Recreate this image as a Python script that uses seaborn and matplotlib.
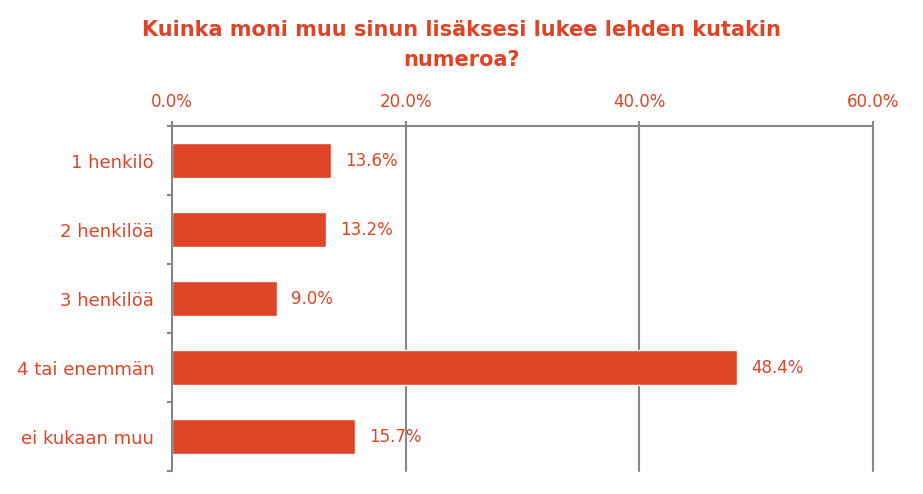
import matplotlib
matplotlib.use("Agg")
import matplotlib.pyplot as plt
import seaborn as sns
import pandas as pd

categories = ["1 henkilö", "2 henkilöä", "3 henkilöä", "4 tai enemmän", "ei kukaan muu"]
values = [13.6, 13.2, 9.0, 48.4, 15.7]
xticks = [0, 20, 40, 60]
xtick_labels = ["0.0%", "20.0%", "40.0%", "60.0%"]
title = "Kuinka moni muu sinun lisäksesi lukee lehden kutakin\nnumeroa?"

RED = "#E04427"
GRAY = "#878787"

sns.set_theme(style="white")
plt.rcParams['font.family'] = ['DejaVu Sans']

df = pd.DataFrame({"cat": categories, "val": values})

fig = plt.figure(figsize=(9.23, 4.94), dpi=100)
ax = fig.add_axes([172/923, 1-471/494, (873-172)/923, (471-126)/494])

sns.barplot(data=df, y="cat", x="val", orient="h", color=RED, width=0.5,
            saturation=1, ax=ax)

ax.set_xlim(0, 60)
ax.set_ylim(4.5, -0.5)
ax.xaxis.tick_top()
ax.set_xticks(xticks)
ax.set_xticklabels(xtick_labels, color=RED, fontsize=12)
ax.set_xlabel("")
ax.set_ylabel("")
ax.set_yticks(range(len(categories)))
ax.set_yticklabels(categories, color=RED, fontsize=13)
ax.tick_params(axis="y", length=0, pad=13)
ax.set_yticks([i - 0.5 for i in range(len(categories) + 1)], minor=True)
ax.tick_params(axis="y", which="minor", length=3.6, width=1.5, color=GRAY, left=True)
ax.tick_params(axis="x", length=3.6, width=1.5, color=GRAY, pad=7.5, top=True, bottom=False)

for x in xticks[1:]:
    ax.axvline(x, color=GRAY, lw=1.5, zorder=0, clip_on=False)

for s in ["right", "bottom"]:
    ax.spines[s].set_visible(False)
for s in ["top", "left"]:
    ax.spines[s].set_visible(True)
    ax.spines[s].set_color(GRAY)
    ax.spines[s].set_linewidth(1.5)

for i, v in enumerate(values):
    ax.annotate(f"{v:.1f}%", xy=(v, i), xytext=(10, 0), textcoords="offset points",
                va="center", ha="left", color=RED, fontsize=12)

fig.text(0.5, 1-45/494, title, ha="center", va="center", color=RED,
         fontsize=15, fontweight="bold", linespacing=1.6)

fig.savefig("out.png", dpi=100, facecolor="white")
